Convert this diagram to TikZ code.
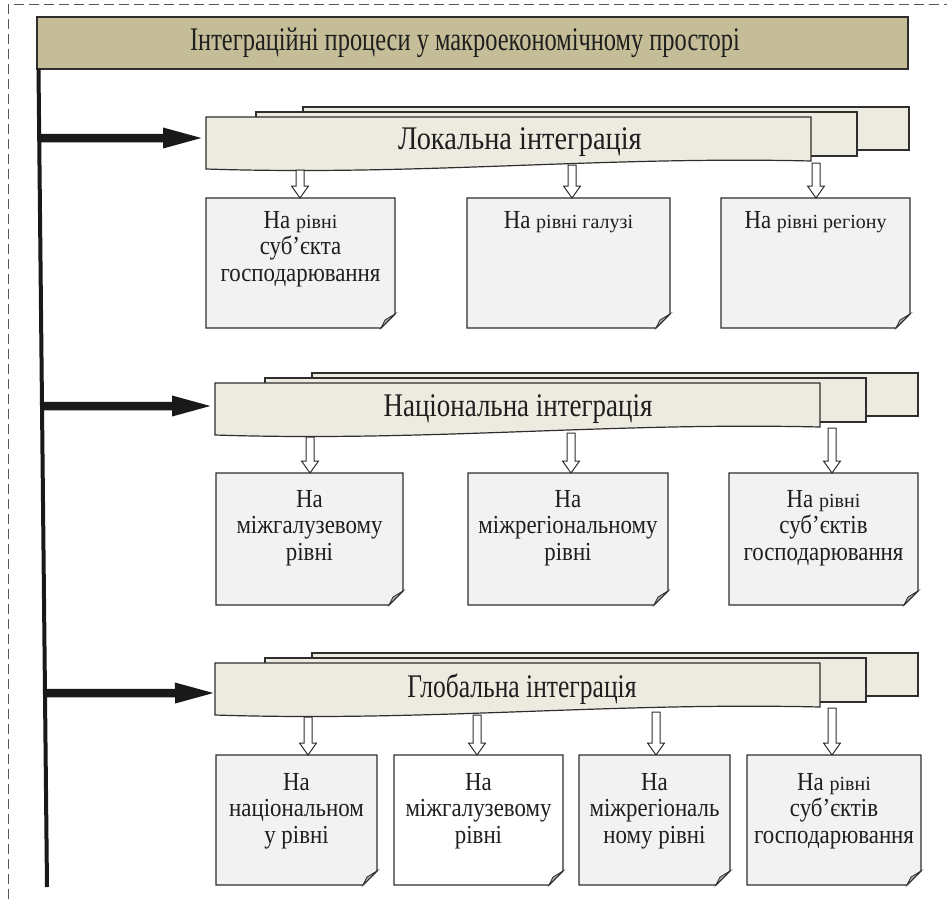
\documentclass[tikz,border=0pt]{standalone}
\usepackage{fontspec}
\setmainfont{Liberation Serif}[FakeStretch=0.88]
\newfontfamily\titlefont{Liberation Serif}[FakeStretch=0.74]
\newfontfamily\labfont{Liberation Serif}[FakeStretch=0.86]
\newfontfamily\rfont{Liberation Serif}
\usetikzlibrary{arrows.meta,calc}
\definecolor{titlefill}{HTML}{C4BD97}
\definecolor{docfill}{HTML}{EDEAE0}
\definecolor{boxfill}{HTML}{F2F2F2}
\definecolor{edgecol}{HTML}{2E2E2E}
\definecolor{foldfill}{HTML}{ABABAB}
\definecolor{dashcol}{HTML}{555555}
\definecolor{txtcol}{HTML}{1E1E1E}
\newcommand\rr[1]{{\rfont\fontsize{20}{26.5}\selectfont #1}}
\newcommand\cbox[8]{%
  \draw[boxedge, fill=#6] (#2,#3) -- (#4,#3) -- (#4,{#5-14}) -- ({#4-14},#5) -- (#2,#5) -- cycle;
  \draw[boxedge, fill=foldfill, line width=0.8pt] (#4,{#5-14}) -- ({#4-10},{#5-8}) .. controls ({#4-12},{#5-4}) .. ({#4-14},#5) -- cycle;
  \node[ctext] (#1) at ({(#2+#4)/2},{#3+#7}) {#8};}
\newcommand\mdoc[2]{%
  \begin{scope}[shift={(#1,#2)}]
    \draw[docedge] (303,107) rectangle (909,150);
    \draw[docedge] (256,112) rectangle (857,156);
    \draw[docedge] (206,117) -- (811,117) -- (811,161) .. controls (600,156) and (420,176) .. (206,169) -- cycle;
  \end{scope}}
\tikzset{
  boxedge/.style={draw=edgecol, line width=1.2pt, line join=miter},
  docedge/.style={draw=edgecol, line width=1.2pt, fill=docfill},
  ctext/.style={anchor=north, align=center, inner sep=0pt, text=txtcol, font=\fontsize{26}{26.5}\selectfont},
  doclabel/.style={font=\labfont\fontsize{33}{36}\selectfont, text=txtcol, inner sep=0pt},
  bigarrow/.style={line width=8.5pt, draw=black!90, -{Triangle[length=43pt,width=18pt]}},
  harrow/.style={draw=edgecol, line width=1pt, fill=white, line join=miter},
  pics/harr/.style={code={\draw[harrow] (-4,0) -- (4,0) -- (4,{#1-12}) -- (8.5,{#1-12}) -- (0,#1) -- (-8.5,{#1-12}) -- (-4,{#1-12}) -- cycle;}}
}
\begin{document}
\begin{tikzpicture}[x=1pt,y=-1pt]
\useasboundingbox (0,0) rectangle (947,899);
% dashed frame
\draw[dashcol, line width=1pt, dash pattern=on 10pt off 5pt] (8,899) -- (8,5) -- (947,5);
% title
\node[draw=edgecol, line width=1.2pt, fill=titlefill, minimum width=871pt, minimum height=52pt, inner sep=0pt] (title) at (472.5,43) {};
\node[font=\titlefont\fontsize{33}{36}\selectfont, text=txtcol, inner sep=0pt] (titletext) at (465,43) {Інтеграційні процеси у макроекономічному просторі};
% multi documents
\mdoc{0}{0}
\mdoc{9}{266}
\mdoc{9}{546}
\node[doclabel] (loc) at (520,142) {Локальна інтеграція};
\node[doclabel] (nat) at (518,409) {\scalebox{0.95}[1]{Національна інтеграція}};
\node[doclabel] (glob) at (522,689) {\scalebox{0.9}[1]{Глобальна інтеграція}};
% spine
\coordinate (vtop) at (38.5,69);
\coordinate (vbot) at (47,887);
\draw[line width=4pt, draw=black!90] (vtop) -- (vbot);
\coordinate (s1) at ($(vtop)!0.0844!(vbot)$);
\coordinate (s2) at ($(vtop)!0.412!(vbot)$);
\coordinate (s3) at ($(vtop)!0.763!(vbot)$);
\coordinate (f1) at (206,138);
\coordinate (f2) at (215,406);
\coordinate (f3) at (218,693);
\draw[bigarrow] (s1) -- (f1);
\draw[bigarrow] (s2) -- (f2);
\draw[bigarrow] (s3) -- (f3);
% row 1
\cbox{a1}{206}{198}{395}{328}{boxfill}{13}{На \rr{рівні}\\суб’єкта\\господарювання}
\cbox{a2}{467}{198}{670}{328}{boxfill}{13}{На \rr{рівні галузі}}
\cbox{a3}{721}{198}{910}{328}{boxfill}{13}{На \rr{рівні регіону}}
\pic at (300,170) {harr=28};
\pic at (572,165) {harr=33};
\pic at (816,163) {harr=35};
% row 2
\cbox{b1}{216}{473}{403}{605}{boxfill}{17}{На\\міжгалузевому\\рівні}
\cbox{b2}{468}{473}{668}{605}{boxfill}{17}{На\\міжрегіональному\\рівні}
\cbox{b3}{729}{473}{918}{605}{boxfill}{17}{На \rr{рівні}\\суб’єктів\\господарювання}
\pic at (310,437) {harr=36};
\pic at (571,433) {harr=40};
\pic at (832,428) {harr=45};
% row 3
\cbox{c1}{216}{755}{377}{885}{boxfill}{18}{На\\національном\\у рівні}
\cbox{c2}{394}{755}{563}{885}{white}{18}{На\\міжгалузевому\\рівні}
\cbox{c3}{579}{755}{730}{885}{boxfill}{18}{На\\міжрегіональ\\ному рівні}
\cbox{c4}{747}{755}{921}{885}{boxfill}{18}{На \rr{рівні}\\суб’єктів\\господарювання}
\pic at (308,717) {harr=38};
\pic at (477,715) {harr=40};
\pic at (656,712) {harr=43};
\pic at (832,708) {harr=47};
\end{tikzpicture}
\end{document}
